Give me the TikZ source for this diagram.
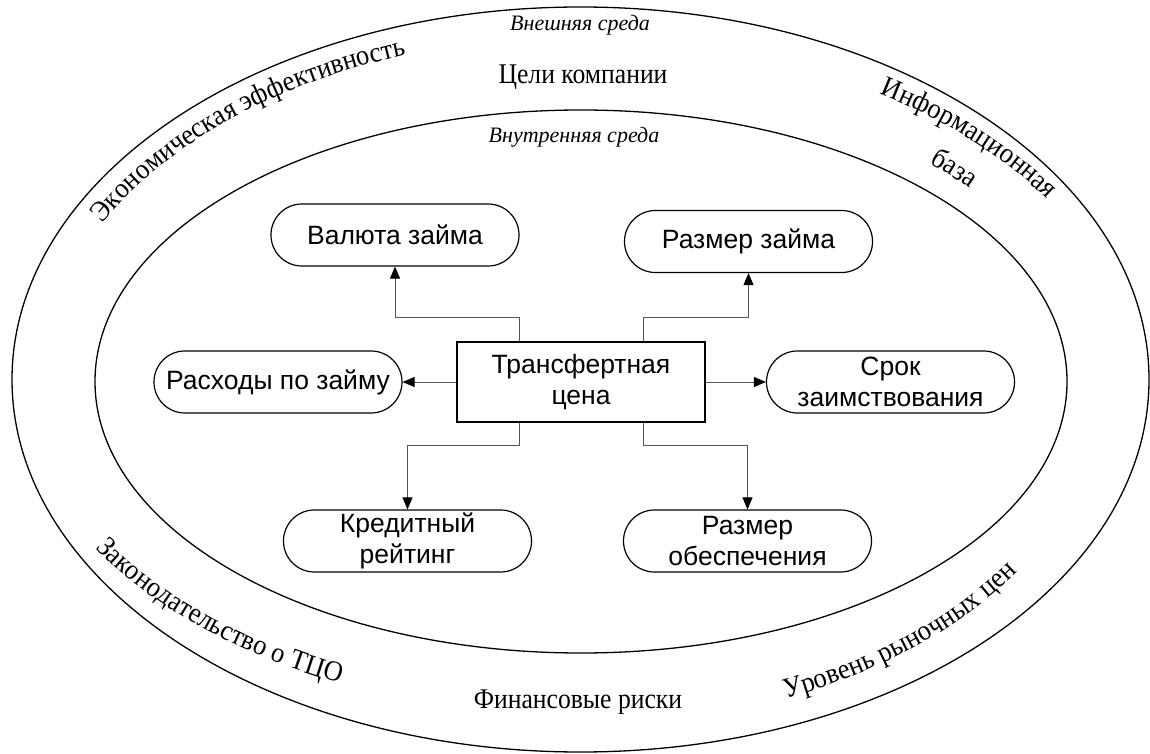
\documentclass[tikz,border=0pt]{standalone}
\usepackage{fontspec}
\setmainfont{Liberation Serif}
\setsansfont{Liberation Sans}
\newfontfamily\tallserif[FakeStretch=0.9]{Liberation Serif}
\newfontfamily\arcserif[FakeStretch=0.93]{Liberation Serif}
\usetikzlibrary{arrows.meta,decorations.text,calc}
\definecolor{connGray}{RGB}{85,85,85}
\newcommand{\ringfont}{\tallserif\fontsize{28.5}{33}\selectfont}
\newcommand{\arcfont}{\arcserif\fontsize{28.5}{33}\selectfont}
\tikzset{
  ring/.style={line width=1.3pt},
  pill/.style={draw, line width=1.2pt, rounded corners=30.9pt, minimum width=248pt,
    minimum height=62pt, inner sep=0pt, align=center,
    font=\sffamily\fontsize{26.5}{31}\selectfont},
  centerbox/.style={draw, line width=1.2pt, minimum width=248pt, minimum height=80pt,
    inner sep=0pt, align=center, font=\sffamily\fontsize{26.5}{31}\selectfont},
  conn/.style={line width=0.9pt, draw=connGray, -{Triangle[length=12pt,width=10pt,color=black]}},
  plainlabel/.style={font=\ringfont, inner sep=0pt},
  envlabel/.style={font=\itshape\fontsize{22}{26}\selectfont, inner sep=0pt},
}
\begin{document}
\begin{tikzpicture}[x=1pt,y=1pt]
\fill[white] (0,0) rectangle (1150,753);
\useasboundingbox (0,0) rectangle (1150,753);

% rings
\draw[ring] (580.5,373.5) ellipse [x radius=568.5pt, y radius=372.5pt];
\draw[ring] (581,371.5) ellipse [x radius=486pt, y radius=271.5pt];

% ring labels
\node[envlabel] (outerenv) at (580,728) {Внешняя среда};
\node[plainlabel] (goals) at (583,676) {Цели компании};
\node[envlabel] (innerenv) at (574,616) {Внутренняя среда};
\node[plainlabel] (risks) at (578,51) {Финансовые риски};

% curved labels
\path[decorate, decoration={text along path, text align=left,
  text={|\arcfont|Экономическая эффективность}}]
  ($(581,373)+(153:537pt and 344pt)$) arc[start angle=153, end angle=90, x radius=537pt, y radius=344pt];

\path[decorate, decoration={text along path, text align=left,
  text={|\arcfont|Информационная}}]
  ($(581,373)+(57.1:550pt and 341pt)$) arc[start angle=57.1, end angle=5, x radius=550pt, y radius=341pt];

\path[decorate, decoration={text along path, text align=left,
  text={|\arcfont|база}}]
  ($(581,373)+(46.3:505pt and 300pt)$) arc[start angle=46.3, end angle=15, x radius=505pt, y radius=300pt];

\path[decorate, decoration={text along path, text align=left,
  text={|\arcfont|Законодательство о ТЦО}}]
  ($(581,373)+(210:561pt and 336pt)$) arc[start angle=210, end angle=268, x radius=561pt, y radius=336pt];

\path[decorate, decoration={text along path, text align=left,
  text={|\arcfont|Уровень рыночных цен}}]
  ($(581,373)+(293:525pt and 346pt)$) arc[start angle=293, end angle=352, x radius=525pt, y radius=346pt];

% nodes
\node[centerbox] (tc) at (581,371) {Трансфертная\\цена};
\node[pill] (valuta) at (395,518) {Валюта займа};
\node[pill] (razmer) at (748.5,511.5) {Размер займа};
\node[pill] (rashody) at (278,371) {Расходы по займу};
\node[pill] (srok) at (890.5,371) {Срок\\заимствования};
\node[pill] (kredit) at (407.5,212) {Кредитный\\рейтинг};
\node[pill] (obesp) at (747.5,212) {Размер\\обеспечения};

% connectors
\draw[conn] ([xshift=-62pt]tc.north) -- ++(0,24) -| (valuta.south);
\draw[conn] ([xshift=62pt]tc.north) -- ++(0,24) -| (razmer.south);
\draw[conn] (tc.west) -- (rashody.east);
\draw[conn] (tc.east) -- (srok.west);
\draw[conn] ([xshift=-62pt]tc.south) -- ++(0,-23) -| (kredit.north);
\draw[conn] ([xshift=62pt]tc.south) -- ++(0,-23) -| (obesp.north);
\end{tikzpicture}
\end{document}
